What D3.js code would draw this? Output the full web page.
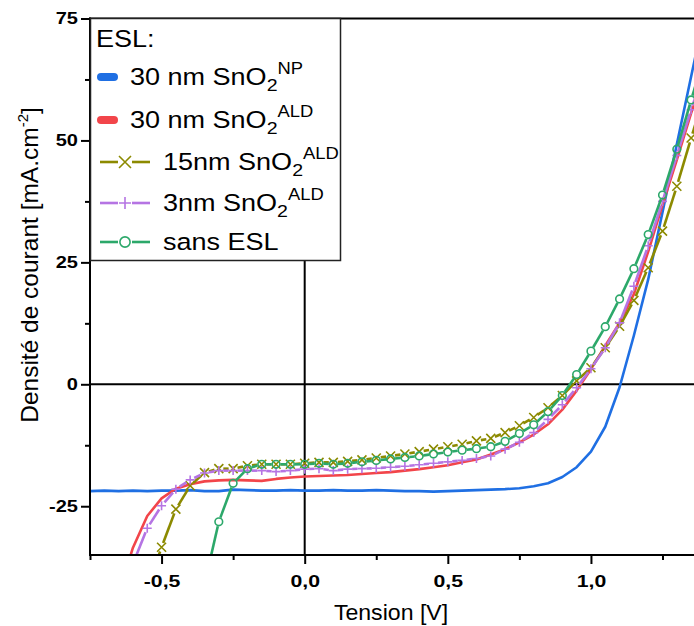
<!DOCTYPE html>
<html><head><meta charset="utf-8">
<script src="https://cdn.jsdelivr.net/npm/d3@7"></script>
<style>body{margin:0;background:#fff} svg{display:block} text{font-family:"Liberation Sans",Arial,sans-serif;fill:#000}</style>
</head><body><svg id="c" width="694" height="626"></svg>
<script>
const voltage = [-0.75,-0.70,-0.65,-0.60,-0.55,-0.50,-0.45,-0.40,-0.35,-0.30,-0.25,-0.20,-0.15,-0.10,-0.05,0.00,0.05,0.10,0.15,0.20,0.25,0.30,0.35,0.40,0.45,0.50,0.55,0.60,0.65,0.70,0.75,0.80,0.85,0.90,0.95,1.00,1.05,1.10,1.15,1.20,1.25,1.30,1.35,1.40];
const jNP30 = [-21.9,-21.8,-21.9,-21.8,-21.9,-21.8,-21.8,-21.7,-21.9,-21.9,-21.6,-21.7,-21.8,-21.8,-21.7,-21.8,-21.8,-21.7,-21.8,-21.8,-21.7,-21.8,-21.9,-21.9,-22.0,-21.9,-21.8,-21.7,-21.6,-21.5,-21.3,-20.9,-20.3,-19.0,-17.0,-13.8,-8.7,-0.6,10.0,21.5,35.3,49.2,63.1,77.0];
const jALD30 = [null,null,-43.0,-33.5,-27.0,-23.4,-21.4,-20.5,-19.9,-19.7,-19.6,-19.7,-19.8,-19.4,-19.1,-18.9,-18.8,-18.7,-18.6,-18.4,-18.2,-18.0,-17.7,-17.4,-17.0,-16.6,-16.0,-15.4,-14.4,-13.3,-11.9,-10.3,-8.2,-5.2,-1.3,3.1,7.9,12.6,18.5,27.2,36.8,46.0,55.6,64.0];
const jALD15 = [null,null,null,null,-42.0,-33.4,-25.6,-20.8,-18.1,-17.3,-17.3,-16.7,-16.4,-16.4,-16.4,-16.2,-16.0,-16.0,-15.8,-15.5,-15.1,-14.7,-14.3,-13.8,-13.3,-12.8,-12.3,-11.6,-11.1,-9.9,-8.5,-6.8,-4.8,-2.3,0.7,3.4,7.5,11.9,17.2,23.9,31.4,40.6,50.5,60.0];
const jALD3 = [null,null,null,-36.8,-29.5,-24.9,-21.5,-19.6,-18.2,-17.7,-17.7,-17.7,-17.7,-17.9,-17.7,-17.4,-17.3,-17.7,-17.4,-17.3,-17.2,-17.0,-16.8,-16.5,-16.2,-15.9,-15.6,-15.2,-14.7,-13.3,-11.9,-9.9,-7.2,-4.2,-0.7,3.2,7.5,12.6,20.1,28.4,37.5,46.9,56.3,65.0];
const jSans = [null,null,null,null,null,null,null,null,-41.0,-28.2,-20.3,-17.3,-16.4,-16.4,-16.4,-16.4,-16.2,-16.4,-16.2,-15.9,-15.6,-15.3,-15.0,-14.7,-14.3,-13.9,-13.5,-13.2,-12.8,-11.7,-10.1,-8.3,-5.6,-2.3,2.0,6.8,11.8,17.5,23.7,30.7,38.8,48.2,58.3,68.0];

const seriesNames = ["30 nm SnO", "30 nm SnO", "15nm SnO", "3nm SnO", "sans ESL"];
const seriesSup = ["NP", "ALD", "ALD", "ALD", ""];
const seriesColors = ["#1f6fe3", "#f2454a", "#8c8a00", "#b574e3", "#2ca86a"];
const seriesMarkers = ["none", "none", "x", "plus", "circle"];
const seriesData = [jNP30, jALD30, jALD15, jALD3, jSans];

const xTickValues = [-0.5, 0, 0.5, 1.0];
const xTickLabels = ["-0,5", "0,0", "0,5", "1,0"];
const xMinorValues = [-0.75, -0.25, 0.25, 0.75, 1.25];
const yTickValues = [-25, 0, 25, 50, 75];
const yTickLabels = ["-25", "0", "25", "50", "75"];
const yMinorValues = [-12.5, 12.5, 37.5, 62.5];

const svg = d3.select("#c");
const L = 90, R = 694, T = 18.5, B = 555;
const x = d3.scaleLinear().domain([-0.75, 1.36]).range([L, R]);
const y = d3.scaleLinear().domain([-35, 75]).range([B, T]);

svg.append("defs").append("clipPath").attr("id", "clip")
  .append("rect").attr("x", L).attr("y", T).attr("width", R - L).attr("height", B - T);

// zero lines
svg.append("line").attr("x1", L).attr("x2", R).attr("y1", y(0)).attr("y2", y(0)).attr("stroke", "#000").attr("stroke-width", 2);
svg.append("line").attr("x1", x(0)).attr("x2", x(0)).attr("y1", T).attr("y2", B).attr("stroke", "#000").attr("stroke-width", 2);

const plot = svg.append("g").attr("clip-path", "url(#clip)");

function gapped(pts, gap) {
  const segs = [];
  for (let i = 0; i < pts.length - 1; i++) {
    const [x0, y0] = pts[i], [x1, y1] = pts[i + 1];
    const dx = x1 - x0, dy = y1 - y0, d = Math.hypot(dx, dy);
    if (d <= 2 * gap) continue;
    const ux = dx / d, uy = dy / d;
    segs.push([x0 + ux * gap, y0 + uy * gap, x1 - ux * gap, y1 - uy * gap]);
  }
  return segs;
}

function drawMarker(g, type, cx, cy, color, s) {
  if (type === "x") {
    g.append("path").attr("d", `M${cx - s},${cy - s}L${cx + s},${cy + s}M${cx - s},${cy + s}L${cx + s},${cy - s}`)
      .attr("stroke", color).attr("stroke-width", 1.6).attr("fill", "none");
  } else if (type === "plus") {
    g.append("path").attr("d", `M${cx - s},${cy}L${cx + s},${cy}M${cx},${cy - s}L${cx},${cy + s}`)
      .attr("stroke", color).attr("stroke-width", 1.6).attr("fill", "none");
  } else if (type === "circle") {
    g.append("circle").attr("cx", cx).attr("cy", cy).attr("r", s * 0.85)
      .attr("stroke", color).attr("stroke-width", 1.6).attr("fill", "none");
  }
}

seriesData.forEach((vals, si) => {
  const color = seriesColors[si];
  const pts = [];
  vals.forEach((v, i) => { if (v !== null) pts.push([x(voltage[i]), y(v)]); });
  const g = plot.append("g");
  if (seriesMarkers[si] === "none") {
    g.append("path").attr("d", d3.line()(pts)).attr("fill", "none").attr("stroke", color)
      .attr("stroke-width", 2.6).attr("stroke-linejoin", "round");
  } else {
    gapped(pts, 4.5).forEach(s => {
      g.append("line").attr("x1", s[0]).attr("y1", s[1]).attr("x2", s[2]).attr("y2", s[3])
        .attr("stroke", color).attr("stroke-width", 2.6);
    });
    pts.forEach(p => drawMarker(g, seriesMarkers[si], p[0], p[1], color, 4.5));
  }
});

// axes
const xAxis = svg.append("g").attr("transform", `translate(0,${B})`)
  .call(d3.axisBottom(x).tickValues(xTickValues).tickSize(9).tickPadding(11).tickFormat((d, i) => xTickLabels[i]));
const xMinor = svg.append("g").attr("transform", `translate(0,${B})`)
  .call(d3.axisBottom(x).tickValues(xMinorValues).tickSize(5).tickFormat(""));
const yAxis = svg.append("g").attr("transform", `translate(${L},0)`)
  .call(d3.axisLeft(y).tickValues(yTickValues).tickSize(9).tickPadding(5).tickFormat((d, i) => yTickLabels[i]));
const yMinor = svg.append("g").attr("transform", `translate(${L},0)`)
  .call(d3.axisLeft(y).tickValues(yMinorValues).tickSize(5).tickFormat(""));
[xAxis, xMinor, yAxis, yMinor].forEach(a => {
  a.select(".domain").remove();
  a.selectAll("line").attr("stroke", "#000").attr("stroke-width", 2);
});
xAxis.selectAll("text").attr("font-size", 17).attr("font-weight", "bold")
  .attr("font-family", "'Liberation Sans',Arial,sans-serif")
  .attr("transform", "scale(1.25,1)").attr("x", 0);
yAxis.selectAll("text").attr("font-size", 16).attr("font-weight", "bold")
  .attr("font-family", "'Liberation Sans',Arial,sans-serif")
  .attr("text-anchor", "end").attr("transform", "translate(-12,0) scale(1.25,1)").attr("x", 0);

// frame lines
svg.append("line").attr("x1", L).attr("x2", L).attr("y1", T - 1).attr("y2", B + 1).attr("stroke", "#000").attr("stroke-width", 2);
svg.append("line").attr("x1", L - 1).attr("x2", R).attr("y1", B).attr("y2", B).attr("stroke", "#000").attr("stroke-width", 2);
svg.append("line").attr("x1", L - 1).attr("x2", R).attr("y1", T).attr("y2", T).attr("stroke", "#000").attr("stroke-width", 2);

// axis titles
svg.append("text").attr("transform", "translate(391,620) scale(1.05,1)").attr("text-anchor", "middle")
  .attr("font-size", 22).text("Tension [V]");
const yt = svg.append("text").attr("transform", "translate(38,265) rotate(-90)").attr("text-anchor", "middle").attr("font-size", 24.5);
yt.append("tspan").text("Densité de courant [mA.cm");
yt.append("tspan").attr("font-size", 15).attr("dy", -10).text("-2");
yt.append("tspan").attr("dy", 10).text("]");

// legend
const lg = svg.append("g");
lg.append("rect").attr("x", 90.5).attr("y", 18.5).attr("width", 250).attr("height", 242)
  .attr("fill", "#fff").attr("stroke", "#222").attr("stroke-width", 1.5);
lg.append("text").attr("transform", "translate(96,47) scale(1.15,1)").attr("font-size", 23.5).text("ESL:");
const rowY = [77, 120, 162, 203, 242];
seriesNames.forEach((name, i) => {
  const cy = rowY[i];
  const color = seriesColors[i];
  let tx;
  if (seriesMarkers[i] === "none") {
    lg.append("rect").attr("x", 97).attr("y", cy - 4).attr("width", 21).attr("height", 8).attr("rx", 4)
      .attr("fill", color);
    tx = 130;
  } else {
    lg.append("line").attr("x1", 100).attr("x2", 118).attr("y1", cy).attr("y2", cy).attr("stroke", color).attr("stroke-width", 2.6);
    lg.append("line").attr("x1", 132).attr("x2", 150).attr("y1", cy).attr("y2", cy).attr("stroke", color).attr("stroke-width", 2.6);
    drawMarker(lg, seriesMarkers[i], 125, cy, color, 6);
    tx = 163;
  }
  const t = lg.append("text").attr("transform", `translate(${tx},${cy + 8}) scale(1.15,1)`).attr("font-size", 23.5);
  t.append("tspan").text(name);
  if (seriesSup[i]) {
    t.append("tspan").attr("font-size", 17).attr("dy", 6).text("2");
    t.append("tspan").attr("font-size", 16).attr("dy", -17).text(seriesSup[i]);
  }
});
</script>
</body></html>
